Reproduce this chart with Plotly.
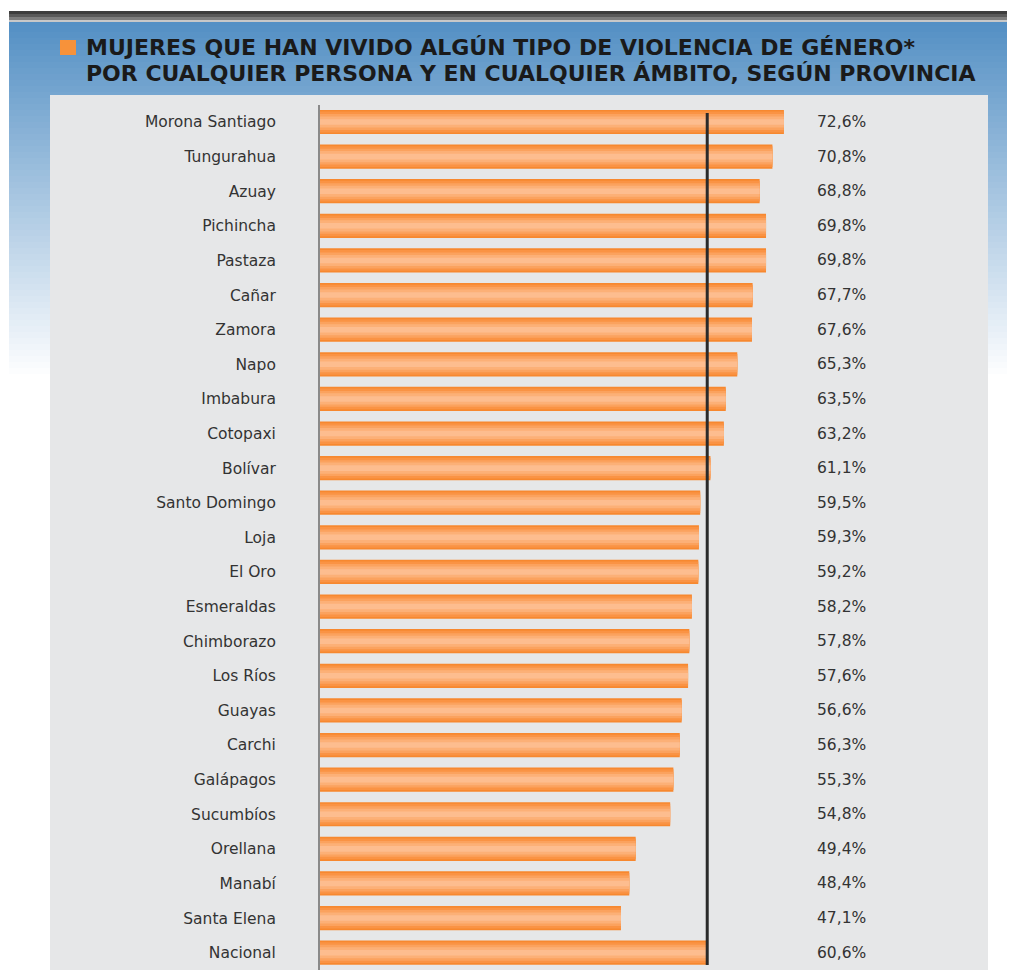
import plotly.graph_objects as go

provincias = ["Morona Santiago", "Tungurahua", "Azuay", "Pichincha", "Pastaza", "Cañar", "Zamora",
              "Napo", "Imbabura", "Cotopaxi", "Bolívar", "Santo Domingo", "Loja", "El Oro",
              "Esmeraldas", "Chimborazo", "Los Ríos", "Guayas", "Carchi", "Galápagos",
              "Sucumbíos", "Orellana", "Manabí", "Santa Elena", "Nacional"]
porcentajes = [72.6, 70.8, 68.8, 69.8, 69.8, 67.7, 67.6, 65.3, 63.5, 63.2, 61.1, 59.5, 59.3, 59.2,
               58.2, 57.8, 57.6, 56.6, 56.3, 55.3, 54.8, 49.4, 48.4, 47.1, 60.6]
titulo = ["MUJERES QUE HAN VIVIDO ALGÚN TIPO DE VIOLENCIA DE GÉNERO*",
          "POR CUALQUIER PERSONA Y EN CUALQUIER ÁMBITO, SEGÚN PROVINCIA"]

OFF = 8  # margen del body del html
W, H = 1015 - OFF, 970 - OFF
nacional = porcentajes[provincias.index("Nacional")]
etiquetas = [f"{v:.1f}".replace(".", ",") + "%" for v in porcentajes]

fig = go.Figure()
# barras naranjas con un degradado aproximado (capas superpuestas)
for ancho, color in [(0.70, "#f7882f"), (0.60, "#fa9344"), (0.46, "#fba25e"), (0.32, "#fcb077"), (0.16, "#fdbd8f")]:
    fig.add_trace(go.Bar(x=porcentajes, y=provincias, orientation="h", width=ancho,
                         marker=dict(color=color, line=dict(width=0)), hoverinfo="skip",
                         showlegend=False))

# etiquetas de valor
for p, t in zip(provincias, etiquetas):
    fig.add_annotation(x=77.5, y=p, text=t, showarrow=False, xanchor="left",
                       font=dict(family="DejaVu Sans", size=15.5, color="#333333"))

def px(x):
    return (x - OFF) / W

def py(y):
    return 1 - (y - OFF) / H

shapes = []
# fondo azul degradado
top, bottom = 20, 380
c0, c1 = (84, 144, 197), (255, 255, 255)
n = 60
for i in range(n):
    t = i / (n - 1)
    col = tuple(int(c0[k] + (c1[k] - c0[k]) * t) for k in range(3))
    y0 = top + (bottom - top) * i / n
    y1 = top + (bottom - top) * (i + 1) / n + 1
    shapes.append(dict(type="rect", xref="paper", yref="paper", x0=px(9), x1=1, y0=py(y1), y1=py(y0),
                       fillcolor="rgb(%d,%d,%d)" % col, line=dict(width=0), layer="below"))
# franja gris oscura superior
for y0, y1, col in [(11, 14, "#3e3e3e"), (14, 17, "#5a5a5a"), (17, 20, "#7e7e7e"), (20, 22, "#c8c8c8")]:
    shapes.append(dict(type="rect", xref="paper", yref="paper", x0=px(9), x1=1, y0=py(y1), y1=py(y0),
                       fillcolor=col, line=dict(width=0), layer="below"))
# panel gris
shapes.append(dict(type="rect", xref="paper", yref="paper", x0=px(50), x1=px(988), y0=0, y1=py(95),
                   fillcolor="#e6e7e8", line=dict(width=0), layer="below"))
# cuadrado naranja del titulo
shapes.append(dict(type="rect", xref="paper", yref="paper", x0=px(60), x1=px(76), y0=py(55), y1=py(40),
                   fillcolor="#f7923a", line=dict(width=0)))
# linea del promedio nacional
shapes.append(dict(type="line", xref="x", yref="paper", x0=nacional, x1=nacional, y0=py(965), y1=py(113),
                   line=dict(color="#2a2a2a", width=3)))
fig.update_layout(shapes=shapes)

for i, linea in enumerate(titulo):
    fig.add_annotation(xref="paper", yref="paper", x=px(84), y=py(47 + 27 * i), text="<b>%s</b>" % linea,
                       showarrow=False, xanchor="left", yanchor="middle",
                       font=dict(family="DejaVu Sans", size=22, color="#1a1a1a"))

fig.update_layout(
    width=W, height=H, margin=dict(l=0, r=0, t=0, b=0),
    paper_bgcolor="white", plot_bgcolor="rgba(0,0,0,0)",
    barmode="overlay", showlegend=False,
    xaxis=dict(domain=[px(320), px(988)], range=[0, (988 - 320) / 6.39], visible=False),
    yaxis=dict(domain=[0, py(104.7)], autorange="reversed", showline=True, linecolor="#8a8a8a",
               linewidth=2, ticks="", showgrid=False, ticklabelstandoff=39,
               tickfont=dict(family="DejaVu Sans", size=15.5, color="#333333")),
)

fig.write_html("out.html")
